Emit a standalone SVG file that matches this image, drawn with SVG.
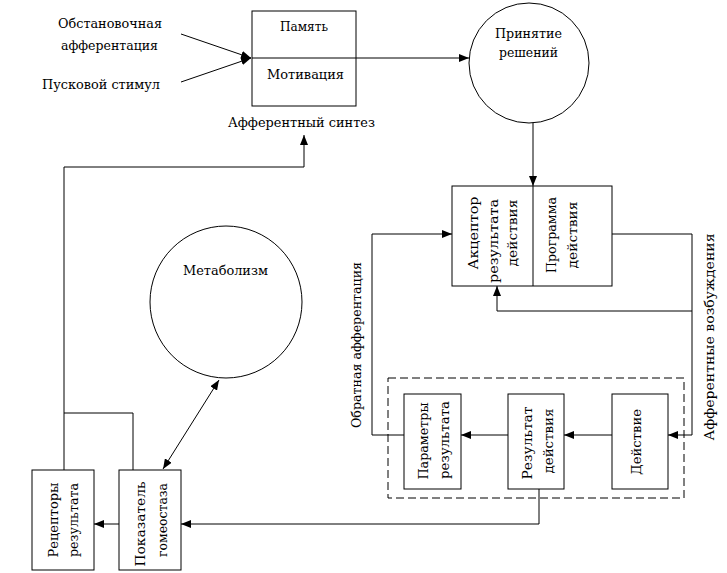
<svg xmlns="http://www.w3.org/2000/svg" width="727" height="573" viewBox="0 0 727 573">
<style>
.s{fill:none;stroke:#000;stroke-width:1}
.n{fill:#fff;stroke:#000;stroke-width:1}
.h{font-family:"DejaVu Serif","Liberation Serif","Times New Roman",serif;font-size:13px;fill:#000}
.v{font-family:"DejaVu Serif","Liberation Serif","Times New Roman",serif;font-size:13px;fill:#000;text-anchor:middle}
.a{marker-end:url(#ar)}
</style>
<defs>
<marker id="ar" viewBox="0 0 10 8" refX="10" refY="4" markerWidth="10" markerHeight="8" markerUnits="userSpaceOnUse" orient="auto-start-reverse">
<path d="M0,0 L10,4 L0,8 Z" fill="#000"/>
</marker>
</defs>
<rect width="727" height="573" fill="#fff"/>
<g id="connectors">
<line class="s a" x1="181" y1="34" x2="251" y2="58"/>
<line class="s a" x1="181" y1="82" x2="251" y2="58"/>
<line class="s a" x1="356" y1="58" x2="469" y2="58"/>
<line class="s a" x1="533" y1="122" x2="533" y2="186"/>
<polyline class="s a" points="64,470 64,167 304,167 304,135"/>
<polyline class="s" points="133,470 133,413 64,413"/>
<polyline class="s a" points="612,234 692,234 692,435 668,435"/>
<polyline class="s a" points="692,311 497,311 497,286"/>
<line class="s a" x1="612" y1="435" x2="564" y2="435"/>
<line class="s a" x1="508" y1="435" x2="461" y2="435"/>
<polyline class="s a" points="404,435 372,435 372,234 452,234"/>
<polyline class="s a" points="539,489 539,524 181,524"/>
<line class="s a" x1="119" y1="524" x2="94" y2="524"/>
<line class="s a" x1="219" y1="380" x2="163" y2="469" style="marker-start:url(#ar)"/>
</g>
<g id="inputs">
<text class="h" x="58" y="28" textLength="104" lengthAdjust="spacingAndGlyphs">Обстановочная</text>
<text class="h" x="61" y="50" textLength="97" lengthAdjust="spacingAndGlyphs">афферентация</text>
<text class="h" x="42" y="89" textLength="118" lengthAdjust="spacingAndGlyphs">Пусковой стимул</text>
</g>
<g id="synthesis">
<rect class="n" x="252" y="11" width="104" height="95"/>
<line class="s" x1="252" y1="58" x2="356" y2="58"/>
<text class="h" x="280" y="31" textLength="48" lengthAdjust="spacingAndGlyphs">Память</text>
<text class="h" x="267" y="79" textLength="77" lengthAdjust="spacingAndGlyphs">Мотивация</text>
<text class="h" x="228" y="127" textLength="147" lengthAdjust="spacingAndGlyphs">Афферентный синтез</text>
</g>
<g id="decision">
<circle class="n" cx="529" cy="63" r="60"/>
<text class="h" x="495" y="38" textLength="67" lengthAdjust="spacingAndGlyphs">Принятие</text>
<text class="h" x="499" y="57" textLength="59" lengthAdjust="spacingAndGlyphs">решений</text>
</g>
<g id="acceptor">
<rect class="n" x="452" y="186" width="160" height="100"/>
<line class="s" x1="533" y1="186" x2="533" y2="286"/>
<text class="v" transform="translate(478,233) rotate(-90)" textLength="73" lengthAdjust="spacingAndGlyphs">Акцептор</text>
<text class="v" transform="translate(498,241) rotate(-90)" textLength="84" lengthAdjust="spacingAndGlyphs">результата</text>
<text class="v" transform="translate(517,233) rotate(-90)" textLength="67" lengthAdjust="spacingAndGlyphs">действия</text>
</g>
<g id="program">
<text class="v" transform="translate(556,235) rotate(-90)" textLength="76" lengthAdjust="spacingAndGlyphs">Программа</text>
<text class="v" transform="translate(577,235) rotate(-90)" textLength="67" lengthAdjust="spacingAndGlyphs">действия</text>
</g>
<g id="labels">
<text class="v" transform="translate(361,345) rotate(-90)" textLength="166" lengthAdjust="spacingAndGlyphs">Обратная афферентация</text>
<text class="v" transform="translate(714,337) rotate(-90)" textLength="207" lengthAdjust="spacingAndGlyphs">Афферентные возбуждения</text>
</g>
<g id="action-group">
<rect x="388" y="378" width="296" height="120" fill="none" stroke="#000" stroke-dasharray="8,4"/>
</g>
<g id="params">
<rect class="n" x="404" y="394" width="57" height="95"/>
<text class="v" transform="translate(428,441) rotate(-90)" textLength="77" lengthAdjust="spacingAndGlyphs">Параметры</text>
<text class="v" transform="translate(449,440) rotate(-90)" textLength="78" lengthAdjust="spacingAndGlyphs">результата</text>
</g>
<g id="result">
<rect class="n" x="508" y="394" width="56" height="95"/>
<text class="v" transform="translate(532,443) rotate(-90)" textLength="73" lengthAdjust="spacingAndGlyphs">Результат</text>
<text class="v" transform="translate(553,441) rotate(-90)" textLength="65" lengthAdjust="spacingAndGlyphs">действия</text>
</g>
<g id="action">
<rect class="n" x="612" y="394" width="56" height="95"/>
<text class="v" transform="translate(641,442) rotate(-90)" textLength="66" lengthAdjust="spacingAndGlyphs">Действие</text>
</g>
<g id="metabolism">
<circle class="n" cx="226" cy="302" r="76"/>
<text class="h" x="183" y="275" textLength="85" lengthAdjust="spacingAndGlyphs">Метаболизм</text>
</g>
<g id="receptors">
<rect class="n" x="32" y="470" width="62" height="100"/>
<text class="v" transform="translate(58,520) rotate(-90)" textLength="75" lengthAdjust="spacingAndGlyphs">Рецепторы</text>
<text class="v" transform="translate(78,520) rotate(-90)" textLength="74" lengthAdjust="spacingAndGlyphs">результата</text>
</g>
<g id="homeostasis">
<rect class="n" x="119" y="470" width="62" height="100"/>
<text class="v" transform="translate(145,524) rotate(-90)" textLength="85" lengthAdjust="spacingAndGlyphs">Показатель</text>
<text class="v" transform="translate(167,520) rotate(-90)" textLength="74" lengthAdjust="spacingAndGlyphs">гомеостаза</text>
</g>
</svg>
